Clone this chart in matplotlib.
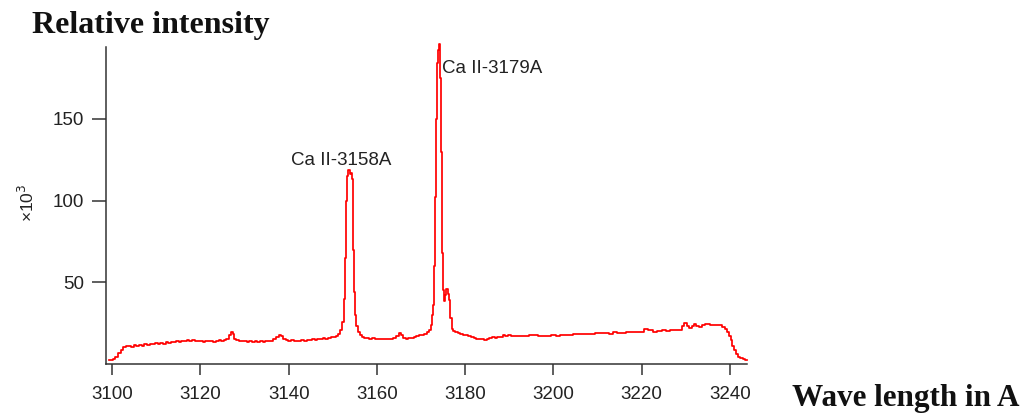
import numpy as np
import matplotlib
matplotlib.use('Agg')
import matplotlib.pyplot as plt

# spectrum (wavelength in A, intensity x10^3)
wave = [3099.2, 3099.8, 3100.4, 3101.0, 3101.6, 3102.2, 3102.8, 3103.4, 3104.0, 3104.6,
        3105.2, 3105.8, 3106.4, 3107.0, 3107.6, 3108.2, 3108.8, 3109.4, 3110.0, 3110.6,
        3111.2, 3111.8, 3112.4, 3113.0, 3113.6, 3114.2, 3114.8, 3115.4, 3116.0, 3116.6,
        3117.2, 3117.8, 3118.4, 3119.0, 3119.6, 3120.2, 3120.8, 3121.4, 3122.0, 3122.6,
        3123.2, 3123.8, 3124.4, 3125.0, 3125.6, 3126.2, 3126.7, 3127.1, 3127.5, 3127.9,
        3128.4, 3129.0, 3129.6, 3130.2, 3130.8, 3131.4, 3132.0, 3132.6, 3133.2, 3133.8,
        3134.4, 3135.0, 3135.6, 3136.2, 3136.8, 3137.4, 3138.0, 3138.5, 3139.0, 3139.6,
        3140.2, 3140.8, 3141.4, 3142.0, 3142.6, 3143.2, 3143.8, 3144.4, 3145.0, 3145.6,
        3146.2, 3146.8, 3147.4, 3148.0, 3148.6, 3149.2, 3149.8, 3150.4, 3150.9, 3151.4,
        3151.9, 3152.3, 3152.6, 3152.9, 3153.2, 3153.4, 3153.7, 3153.95, 3154.2, 3154.4,
        3154.7, 3154.9, 3155.2, 3155.5, 3155.9, 3156.3, 3156.8, 3157.4, 3158.0, 3158.6,
        3159.2, 3159.8, 3160.4, 3161.0, 3161.6, 3162.2, 3162.8, 3163.4, 3164.0, 3164.6,
        3165.2, 3165.7, 3166.2, 3166.8, 3167.4, 3168.0, 3168.6, 3169.2, 3169.8, 3170.4,
        3171.0, 3171.5, 3172.0, 3172.4, 3172.7, 3172.9, 3173.1, 3173.3, 3173.5, 3173.7,
        3173.9, 3174.1, 3174.3, 3174.5, 3174.7, 3174.9, 3175.1, 3175.3, 3175.6, 3175.9,
        3176.2, 3176.5, 3176.8, 3177.1, 3177.5, 3178.0, 3178.6, 3179.2, 3179.8, 3180.4,
        3181.0, 3181.6, 3182.2, 3182.8, 3183.4, 3184.0, 3184.6, 3185.2, 3185.8, 3186.4,
        3187.0, 3187.6, 3188.2, 3188.8, 3189.4, 3190.0, 3190.6, 3191.2, 3192.0, 3193.0,
        3194.0, 3195.0, 3196.0, 3197.0, 3198.0, 3199.0, 3200.0, 3201.0, 3202.0, 3203.0,
        3204.0, 3205.0, 3206.0, 3207.0, 3208.0, 3209.0, 3210.0, 3211.0, 3212.0, 3213.0,
        3214.0, 3215.0, 3216.0, 3217.0, 3218.0, 3219.0, 3220.0, 3221.0, 3222.0, 3223.0,
        3224.0, 3225.0, 3226.0, 3227.0, 3228.0, 3228.8, 3229.4, 3229.9, 3230.5, 3231.1,
        3231.6, 3232.1, 3232.7, 3233.3, 3234.0, 3234.6, 3235.2, 3235.8, 3236.6, 3237.4,
        3238.0, 3238.6, 3239.1, 3239.6, 3240.0, 3240.4, 3240.7, 3241.1, 3241.5, 3242.0,
        3242.6, 3243.2, 3243.8]
intensity = [2.4, 2.5, 2.8, 4.5, 6.5, 8.5, 10.5, 11.2, 10.8, 10.5,
             11.4, 11.0, 11.6, 11.2, 12.0, 11.5, 12.2, 12.0, 12.6, 12.2,
             12.8, 12.5, 13.3, 12.9, 13.5, 13.2, 13.9, 13.6, 14.2, 14.0,
             14.4, 14.0, 14.5, 14.3, 13.8, 14.0, 13.6, 13.8, 14.3, 14.1,
             13.7, 14.2, 14.6, 14.2, 14.4, 15.0, 18.0, 19.6, 18.5, 15.5,
             14.6, 14.2, 13.8, 14.1, 13.6, 13.9, 13.5, 13.8, 13.6, 14.0,
             13.7, 14.1, 13.8, 14.3, 15.0, 16.5, 18.0, 17.2, 15.5, 14.6,
             14.2, 14.5, 14.0, 14.3, 14.0, 14.4, 14.1, 14.8, 14.5, 15.2,
             14.9, 15.5, 15.2, 15.8, 15.6, 16.0, 16.3, 16.6, 17.2, 18.5,
             21.0, 26.0, 40.0, 65.0, 100.0, 115.0, 118.5, 116.0, 117.0, 113.0,
             70.0, 44.0, 30.0, 23.0, 19.5, 17.8, 16.8, 16.0, 15.7, 15.5,
             15.8, 15.3, 15.6, 15.2, 15.5, 15.0, 15.4, 15.2, 15.8, 17.0,
             19.0, 17.5, 16.0, 15.6, 16.0, 16.2, 16.8, 17.2, 17.6, 18.0,
             18.4, 19.5, 21.0, 24.0, 30.0, 36.0, 60.0, 102.0, 150.0, 184.0,
             192.0, 196.0, 186.0, 175.0, 130.0, 68.0, 45.0, 38.5, 42.0, 45.6,
             43.0, 39.0, 28.0, 21.5, 20.0, 19.6, 19.0, 18.5, 18.0, 17.5,
             17.0, 16.5, 16.0, 15.4, 15.0, 15.2, 14.9, 15.5, 15.8, 16.3,
             16.0, 16.8, 16.5, 17.5, 17.2, 17.6, 17.3, 17.4, 17.3, 17.4,
             17.2, 17.6, 17.5, 17.3, 17.4, 17.4, 17.5, 17.4, 17.6, 17.5,
             17.7, 18.4, 18.5, 18.4, 18.6, 18.5, 18.7, 19.2, 18.9, 18.6,
             19.3, 19.0, 18.8, 19.4, 19.5, 19.4, 19.6, 21.3, 20.6, 19.8,
             20.4, 20.6, 20.5, 20.7, 20.6, 20.9, 23.5, 25.3, 23.5, 22.0,
             23.5, 24.5, 23.2, 22.5, 24.0, 24.7, 24.2, 23.8, 23.8, 23.8,
             23.6, 22.8, 21.5, 19.5, 17.0, 14.5, 11.0, 8.4, 6.0, 4.5,
             3.6, 3.0, 2.6]

xticks = [3100, 3120, 3140, 3160, 3180, 3200, 3220, 3240]
yticks = [50, 100, 150]
peak_labels = ['Ca II-3158A', 'Ca II-3179A']
peak_label_pos = [(3140.6, 121.5), (3174.7, 178.0)]

fig = plt.figure(figsize=(10.26, 4.2), dpi=100)
ax = fig.add_axes([0.1033, 0.1333, 0.6245, 0.755])

ax.plot(wave, intensity, color='#ff0000', linewidth=1.25, drawstyle='steps-mid',
        clip_on=False)

ax.set_xlim(3098.6, 3243.8)
ax.set_ylim(0, 194)
ax.set_xticks(xticks)
ax.set_yticks(yticks)

for s in ['top', 'right']:
    ax.spines[s].set_visible(False)
for s in ['left', 'bottom']:
    ax.spines[s].set_color('#333333')
    ax.spines[s].set_linewidth(1.1)

ax.tick_params(axis='x', direction='out', length=8, width=1.1, color='#333333',
               pad=8, labelsize=13.5, labelcolor='#222222')
ax.tick_params(axis='y', direction='out', length=10, width=1.1, color='#333333',
               pad=6, labelsize=13.5, labelcolor='#222222')
for lab in ax.get_xticklabels() + ax.get_yticklabels():
    lab.set_fontfamily('Liberation Sans')

for txt, (px, py) in zip(peak_labels, peak_label_pos):
    ax.text(px, py, txt, fontsize=13.5, family='Liberation Sans', color='#222222',
            ha='left', va='baseline')

fig.text(32 / 1026, 1 - 33 / 420, 'Relative intensity', family='Liberation Serif',
         fontweight='bold', fontsize=23, color='#111111', ha='left', va='baseline')
fig.text(792 / 1026, 1 - 406 / 420, 'Wave length in A', family='Liberation Serif',
         fontweight='bold', fontsize=22.4, color='#111111', ha='left', va='baseline')
fig.text(27 / 1026, 1 - 203 / 420, '×10$^3$', family='Liberation Sans', fontsize=12.5,
         color='#222222', rotation=90, ha='center', va='center')

fig.savefig('out.png', dpi=100)
